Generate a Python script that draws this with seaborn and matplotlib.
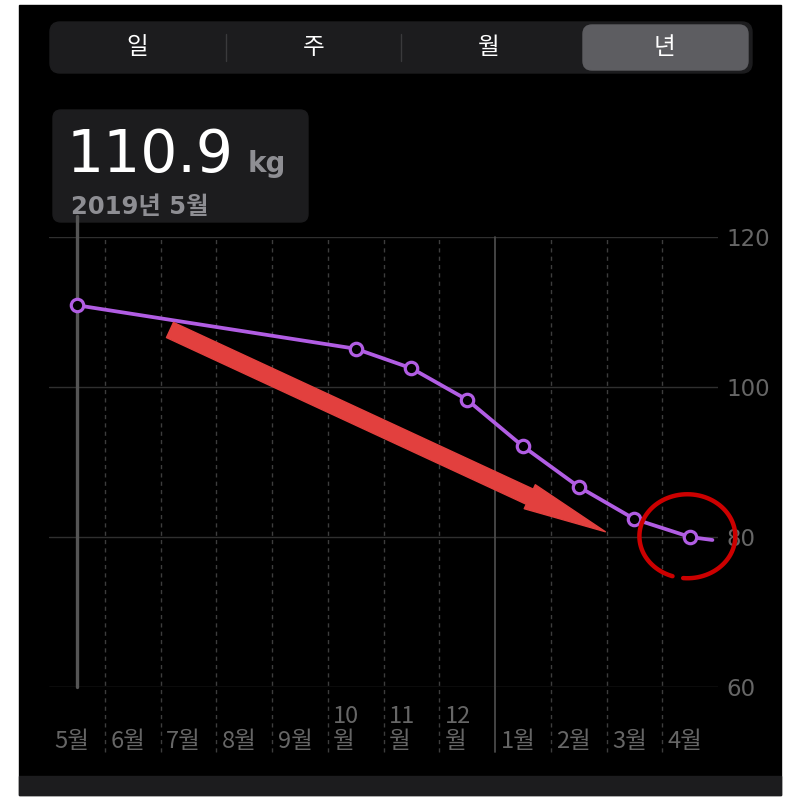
import numpy as np
import pandas as pd
import matplotlib
matplotlib.use('Agg')
import matplotlib.pyplot as plt
import seaborn as sns
from matplotlib.patches import Rectangle, FancyBboxPatch
from matplotlib import transforms

# data (months May 2019 .. Apr 2020)
month_labels = ['5월', '6월', '7월', '8월', '9월', '10\n월', '11\n월', '12\n월', '1월', '2월', '3월', '4월']
reading_month = [0, 5, 6, 7, 8, 9, 10, 11]
reading_kg = [110.9, 105.1, 102.5, 98.3, 92.1, 86.7, 82.4, 80.0]
last_month = 11.4
last_kg = 79.6
y_ticks = [60, 80, 100, 120]
segments = ['일', '주', '월', '년']

PURPLE = '#b15de3'
GRID = '#2f2f2f'
LABEL = '#666666'

sns.set_style('dark')
plt.rcParams['font.family'] = ['DejaVu Sans', 'Noto Sans CJK KR']

df_line = pd.DataFrame({'month': reading_month + [last_month], 'kg': reading_kg + [last_kg]})
df_pts = pd.DataFrame({'month': reading_month, 'kg': reading_kg})

fig = plt.figure(figsize=(8, 8), dpi=100, facecolor='white')

# background / phone UI layer in pixel units
bg = fig.add_axes([0, 0, 1, 1], zorder=0)
bg.set_xlim(0, 800)
bg.set_ylim(800, 0)
bg.axis('off')
bg.add_patch(Rectangle((19, 5), 762, 790, color='black'))
bg.add_patch(Rectangle((19, 776), 762, 19, color='#1c1c1e'))

# segmented control
bg.add_patch(FancyBboxPatch((60, 32), 682, 31, boxstyle='round,pad=10', color='#1c1c1e'))
bg.add_patch(FancyBboxPatch((592, 34), 147, 27, boxstyle='round,pad=9', color='#5d5d61'))
for sx in [226, 401]:
    bg.plot([sx, sx], [34, 61], color='#3a3a3c', lw=1)
for i, s in enumerate(segments):
    bg.text(50 + 175.5 * (i + 0.5), 47, s, ha='center', va='center', color='white',
            fontsize=17, family=['Noto Sans CJK KR'])

# info box
bg.add_patch(FancyBboxPatch((61, 118), 239, 96, boxstyle='round,pad=8', color='#1c1c1e'))
bg.text(67, 172, '110.9', ha='left', va='baseline', color='white', fontsize=42)
bg.text(248, 172, 'kg', ha='left', va='baseline', color='#8e8e93', fontsize=20, fontweight='bold')
bg.text(71, 214, '2019년 5월', ha='left', va='baseline', color='#8e8e93', fontsize=17.5,
        fontweight='bold')

# chart
ax = fig.add_axes([49 / 800, 1 - 687 / 800, 669 / 800, 450 / 800], zorder=1)
ax.set_facecolor('none')
ax.set_xlim(-0.5, 11.5)
ax.set_ylim(60, 120)
for sp in ax.spines.values():
    sp.set_visible(False)

ax.set_yticks(y_ticks)
ax.set_yticklabels([str(t) for t in y_ticks], color=LABEL, fontsize=16.5)
ax.yaxis.tick_right()
ax.tick_params(axis='y', length=0, pad=6)
ax.set_xticks([])
ax.grid(False)
for t in y_ticks:
    ax.axhline(t, color='#3a3a3a' if t == 60 else GRID, lw=1, zorder=1)

below = -(752 - 687) / 450
for b in range(1, 12):
    xb = b - 0.5
    if b == 8:
        ax.axvline(xb, ymin=below, ymax=1, color='#4a4a4a', lw=1.3, clip_on=False, zorder=1)
    else:
        ax.axvline(xb, ymin=below, ymax=1, color='#3d3d3d', lw=1, ls=(0, (3, 3)),
                   clip_on=False, zorder=1)

# selection cursor on May
ax.axvline(0, ymin=0, ymax=1 + (237 - 216) / 450, color='#555555', lw=2.4, clip_on=False, zorder=2)

trans = transforms.blended_transform_factory(ax.transData, ax.transAxes)
for i, lab in enumerate(month_labels):
    ax.text(i - 0.5 + 0.1, -(748 - 687) / 450, lab, transform=trans, ha='left', va='baseline',
            color=LABEL, fontsize=17, linespacing=1.1, clip_on=False,
            family=['Noto Sans CJK KR'])

sns.lineplot(data=df_line, x='month', y='kg', ax=ax, color=PURPLE, lw=2.7, zorder=3)
sns.scatterplot(data=df_pts, x='month', y='kg', ax=ax, s=80, facecolor='black',
                edgecolor=PURPLE, linewidth=2.3, zorder=4)
ax.set_xlabel('')
ax.set_ylabel('')

# hand-drawn annotations: red arrow and red loop around the latest value
ax.annotate('', xy=(9.48, 80.7), xytext=(1.67, 107.6),
            arrowprops=dict(arrowstyle='simple,head_length=60,head_width=19,tail_width=12',
                            mutation_scale=1, color='#e2403e', shrinkA=0, shrinkB=0), zorder=5)
t = np.deg2rad(np.linspace(265, 612, 200))
ax.plot(10.95 + 0.86 * np.cos(t), 80.1 + 5.6 * np.sin(t), color='#cc0000', lw=3.2,
        clip_on=False, zorder=5, solid_capstyle='round')

fig.savefig('out.png', dpi=100, facecolor='white')
